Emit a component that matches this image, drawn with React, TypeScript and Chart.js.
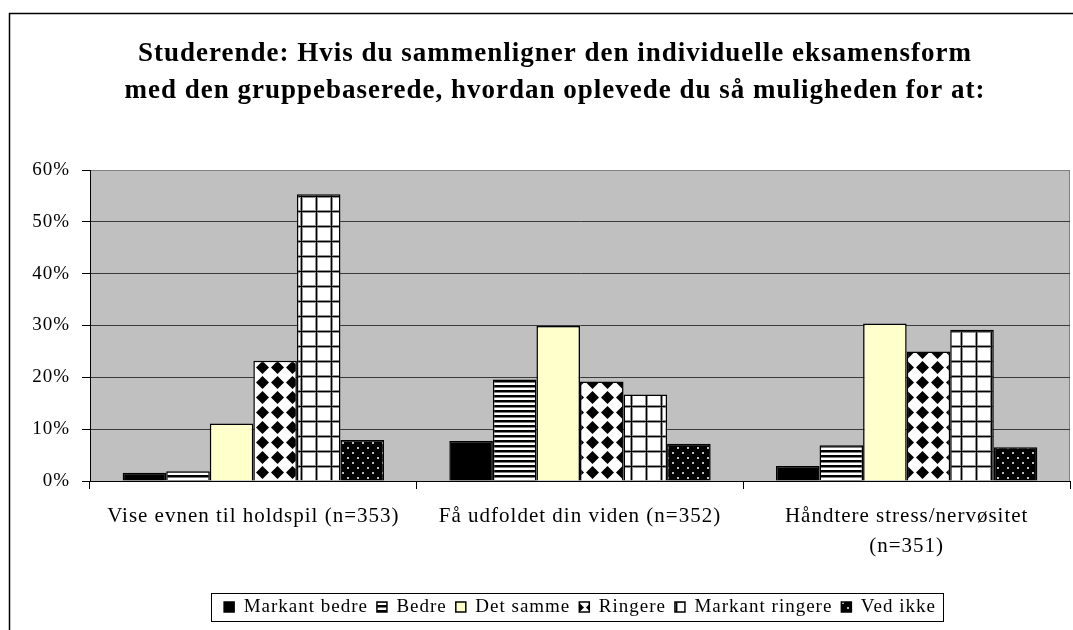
import React, { useEffect, useRef } from 'react';
import { Chart, registerables } from 'chart.js';

Chart.register(...registerables);

const categories: (string | string[])[] = [
  'Vise evnen til holdspil (n=353)',
  'Få udfoldet din viden (n=352)',
  ['Håndtere stress/nervøsitet', '(n=351)'],
];
const seriesNames = ['Markant bedre', 'Bedre', 'Det samme', 'Ringere', 'Markant ringere', 'Ved ikke'];
const markantBedre = [1.6, 7.7, 2.9];
const bedre = [1.9, 19.6, 6.9];
const detSamme = [11.1, 29.9, 30.4];
const ringere = [23.2, 19.2, 25.0];
const markantRingere = [55.3, 16.7, 29.2];
const vedIkke = [7.9, 7.2, 6.5];
const yTicks = [0, 10, 20, 30, 40, 50, 60];
const titleLines = [
  'Studerende: Hvis du sammenligner den individuelle eksamensform',
  'med den gruppebaserede, hvordan oplevede du så muligheden for at:',
];

const FONT = "'Liberation Serif', 'Times New Roman', serif";

function makePattern(w: number, h: number, draw: (c: CanvasRenderingContext2D) => void): CanvasPattern | string {
  const cv = document.createElement('canvas');
  cv.width = w;
  cv.height = h;
  const c = cv.getContext('2d')!;
  draw(c);
  const p = c.createPattern(cv, 'repeat');
  return p || '#000';
}

function buildFills() {
  const solid = '#000000';
  const stripes = makePattern(6, 5, (c) => {
    c.fillStyle = '#fff';
    c.fillRect(0, 0, 6, 5);
    c.fillStyle = '#000';
    c.fillRect(0, 0, 6, 2);
    c.fillStyle = '#808080';
    c.fillRect(0, 2, 6, 1);
  });
  const yellow = '#FFFFCC';
  const diamonds = makePattern(15, 15, (c) => {
    c.fillStyle = '#fff';
    c.fillRect(0, 0, 15, 15);
    c.fillStyle = '#000';
    c.beginPath();
    c.moveTo(7.5, 1);
    c.lineTo(14, 7.5);
    c.lineTo(7.5, 14);
    c.lineTo(1, 7.5);
    c.closePath();
    c.fill();
  });
  const grid = makePattern(15, 15, (c) => {
    c.fillStyle = '#fff';
    c.fillRect(0, 0, 15, 15);
    c.fillStyle = '#909090';
    c.fillRect(0, 0, 15, 3);
    c.fillRect(0, 0, 3, 15);
    c.fillStyle = '#000';
    c.fillRect(0, 1, 15, 1);
    c.fillRect(1, 0, 1, 15);
  });
  const dots = makePattern(10, 10, (c) => {
    c.fillStyle = '#000';
    c.fillRect(0, 0, 10, 10);
    c.fillStyle = '#bdbdbd';
    c.fillRect(2, 2, 2, 2);
    c.fillRect(7, 7, 2, 2);
  });
  return [solid, stripes, yellow, diamonds, grid, dots];
}

const spacingPlugin = {
  id: 'spacing',
  beforeUpdate(chart: any) {
    chart.ctx.letterSpacing = '1px';
  },
  beforeDraw(chart: any) {
    chart.ctx.letterSpacing = '1px';
  },
};

const framePlugin = {
  id: 'frame',
  beforeDraw(chart: any) {
    const ctx = chart.ctx as CanvasRenderingContext2D;
    const a = chart.chartArea;
    ctx.save();
    ctx.fillStyle = '#ffffff';
    ctx.fillRect(0, 0, chart.width, chart.height);
    ctx.strokeStyle = '#000';
    ctx.lineWidth = 1.5;
    ctx.beginPath();
    ctx.moveTo(9.5, chart.height);
    ctx.lineTo(9.5, 13.5);
    ctx.lineTo(chart.width, 13.5);
    ctx.stroke();
    ctx.fillStyle = '#C0C0C0';
    ctx.fillRect(a.left, a.top, a.right - a.left, a.bottom - a.top);
    ctx.strokeStyle = '#808080';
    ctx.lineWidth = 1;
    ctx.strokeRect(a.left + 0.5, a.top + 0.5, a.right - a.left - 1, a.bottom - a.top);
    ctx.restore();
  },
  afterDraw(chart: any) {
    const ctx = chart.ctx as CanvasRenderingContext2D;
    ctx.save();
    // title
    ctx.fillStyle = '#000';
    ctx.font = `bold 27px ${FONT}`;
    (ctx as any).letterSpacing = '1px';
    ctx.textAlign = 'center';
    ctx.textBaseline = 'alphabetic';
    ctx.fillText(titleLines[0], 555, 61);
    ctx.fillText(titleLines[1], 555, 98);
    // legend frame
    const boxes = chart.legend && chart.legend.legendHitBoxes;
    if (boxes && boxes.length) {
      let l = Infinity, r = -Infinity, t = Infinity, b = -Infinity;
      for (const h of boxes) {
        l = Math.min(l, h.left);
        r = Math.max(r, h.left + h.width);
        t = Math.min(t, h.top);
        b = Math.max(b, h.top + h.height);
      }
      const cy = (t + b) / 2;
      ctx.strokeStyle = '#000';
      ctx.lineWidth = 1;
      ctx.strokeRect(Math.round(l - 13) + 0.5, Math.round(cy - 14) + 0.5, Math.round(r - l + 20), 28);
    }
    ctx.restore();
  },
};

export default function App() {
  const ref = useRef<HTMLCanvasElement | null>(null);
  useEffect(() => {
    if (!ref.current) return;
    const fills = buildFills();
    const series = [markantBedre, bedre, detSamme, ringere, markantRingere, vedIkke];
    const chart = new Chart(ref.current, {
      type: 'bar',
      data: {
        labels: categories as any,
        datasets: series.map((d, i) => ({
          label: seriesNames[i],
          data: d,
          backgroundColor: fills[i] as any,
          borderColor: '#000',
          borderWidth: 1.5,
          categoryPercentage: 0.8,
          barPercentage: 1.0,
        })),
      },
      options: {
        responsive: false,
        animation: false,
        devicePixelRatio: 1,
        layout: { padding: { left: 20, right: 3, top: 170, bottom: 3.5 } },
        plugins: {
          title: { display: false },
          tooltip: { enabled: false },
          legend: {
            position: 'bottom',
            fullSize: false,
            labels: {
              boxWidth: 10,
              boxHeight: 10,
              padding: 9,
              color: '#000',
              font: { family: FONT, size: 19 },
            },
          },
        },
        scales: {
          x: {
            grid: {
              offset: true,
              drawOnChartArea: false,
              drawTicks: true,
              tickLength: 8,
              tickColor: '#000',
            },
            border: { color: '#000', width: 1 },
            ticks: {
              color: '#000',
              padding: 12,
              maxRotation: 0,
              autoSkip: false,
              font: { family: FONT, size: 21, lineHeight: 1.43 },
            },
            afterFit: (s: any) => {
              s.height = 107.5;
            },
          },
          y: {
            min: 0,
            max: 60,
            afterBuildTicks: (s: any) => {
              s.ticks = yTicks.map((v) => ({ value: v }));
            },
            grid: {
              color: (c: any) => (c.tick && c.tick.value === 60 ? '#808080' : '#3a3a3a'),
              lineWidth: 1,
              tickLength: 8,
              tickColor: '#000',
            },
            border: { color: '#000', width: 1 },
            ticks: {
              color: '#000',
              padding: 12,
              font: { family: FONT, size: 19 },
              callback: (v: any) => `${v}%`,
            },
            afterFit: (s: any) => {
              s.width = 70;
            },
          },
        },
      },
      plugins: [spacingPlugin, framePlugin],
    });
    return () => chart.destroy();
  }, []);
  return (
    <div style={{ position: 'absolute', left: 0, top: 0 }}>
      <canvas ref={ref} width={1073} height={630} style={{ display: 'block' }} />
    </div>
  );
}
